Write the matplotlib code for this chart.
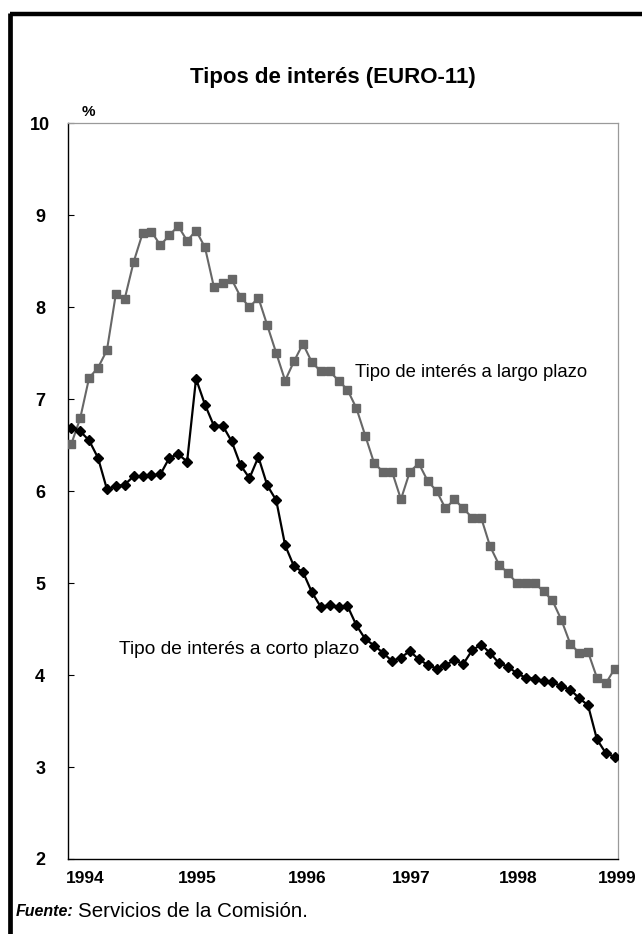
import matplotlib
matplotlib.use("Agg")
import matplotlib.pyplot as plt
from matplotlib.lines import Line2D

# monthly rates, Jan 1994 onwards (%)
largo = [6.51, 6.79, 7.23, 7.34, 7.53, 8.14, 8.09, 8.49, 8.80, 8.82,
         8.67, 8.78, 8.88, 8.72, 8.83, 8.65, 8.22, 8.26, 8.30, 8.11,
         8.00, 8.10, 7.80, 7.50, 7.20, 7.41, 7.60, 7.40, 7.30, 7.30,
         7.20, 7.10, 6.90, 6.60, 6.30, 6.21, 6.21, 5.91, 6.21, 6.30,
         6.11, 6.00, 5.81, 5.91, 5.81, 5.71, 5.71, 5.40, 5.20, 5.11,
         5.00, 5.00, 5.00, 4.91, 4.81, 4.60, 4.34, 4.24, 4.25, 3.97,
         3.91, 4.07]
corto = [6.69, 6.65, 6.55, 6.36, 6.02, 6.05, 6.07, 6.16, 6.16, 6.17,
         6.18, 6.36, 6.40, 6.32, 7.22, 6.94, 6.71, 6.71, 6.54, 6.28,
         6.14, 6.37, 6.06, 5.90, 5.41, 5.18, 5.12, 4.90, 4.74, 4.76,
         4.74, 4.75, 4.54, 4.39, 4.32, 4.24, 4.15, 4.19, 4.26, 4.17,
         4.11, 4.07, 4.11, 4.16, 4.12, 4.27, 4.33, 4.24, 4.13, 4.09,
         4.02, 3.97, 3.96, 3.93, 3.92, 3.88, 3.84, 3.75, 3.67, 3.30,
         3.15, 3.11]
years = ["1994", "1995", "1996", "1997", "1998", "1999"]
year_pos = [1.55, 14.1, 26.45, 38.1, 50.2, 61.25]
yticks = [2, 3, 4, 5, 6, 7, 8, 9, 10]

fam = ["Liberation Sans", "DejaVu Sans"]

fig = plt.figure(figsize=(6.42, 9.34), dpi=100)

# frame lines top and left
fig.add_artist(Line2D([0.0155, 1.0], [0.9845, 0.9845], color="black", lw=3.2,
                      transform=fig.transFigure, solid_capstyle="butt"))
fig.add_artist(Line2D([0.0155, 0.0155], [0.0, 0.9862], color="black", lw=3.4,
                      transform=fig.transFigure, solid_capstyle="butt"))

ax = fig.add_axes([0.1059, 0.0803, 0.8567, 0.788])
x = list(range(len(largo)))

ax.plot(x, largo, color="#676767", lw=1.5, marker="s", markersize=6.4,
        markerfacecolor="#676767", markeredgecolor="#676767", zorder=3)
ax.plot(x, corto, color="black", lw=1.6, marker="D", markersize=4.6,
        markerfacecolor="black", markeredgecolor="black", zorder=4)

ax.set_xlim(-0.37, 61.36)
ax.set_ylim(2, 10)

ax.set_yticks(yticks)
ax.set_yticklabels([str(v) for v in yticks], fontfamily=fam,
                   fontweight="bold", fontsize=13)
ax.tick_params(axis="y", direction="in", length=4, width=0.8, pad=20)
for lab in ax.get_yticklabels():
    lab.set_horizontalalignment("center")

ax.set_xticks(year_pos)
ax.set_xticklabels(years, fontfamily=fam, fontweight="bold", fontsize=12.5)
ax.tick_params(axis="x", length=0, pad=9)

for side in ["top", "right"]:
    ax.spines[side].set_color("#9a9a9a")
    ax.spines[side].set_linewidth(0.9)
for side in ["left", "bottom"]:
    ax.spines[side].set_color("black")
    ax.spines[side].set_linewidth(1.0)

ax.text(0.024, 1.005, "%", transform=ax.transAxes, fontfamily=fam,
        fontweight="bold", fontsize=11, ha="left", va="bottom")

ax.text(0.482, 1.0625, "Tipos de interés (EURO-11)", transform=ax.transAxes,
        fontfamily=fam, fontweight="bold", fontsize=16, ha="center",
        va="center")

ax.text(31.8, 7.29, "Tipo de interés a largo plazo", fontfamily=fam,
        fontsize=13.3, ha="left", va="center")
ax.text(5.3, 4.28, "Tipo de interés a corto plazo", fontfamily=fam,
        fontsize=13.8, ha="left", va="center")

fig.text(0.024, 0.0245, "Fuente:", fontfamily=fam, fontweight="bold",
         fontstyle="italic", fontsize=11.5, ha="left", va="center")
fig.text(0.121, 0.0245, "Servicios de la Comisión.", fontfamily=fam,
         fontsize=14.8, ha="left", va="center")

fig.savefig("out.png", dpi=100)
